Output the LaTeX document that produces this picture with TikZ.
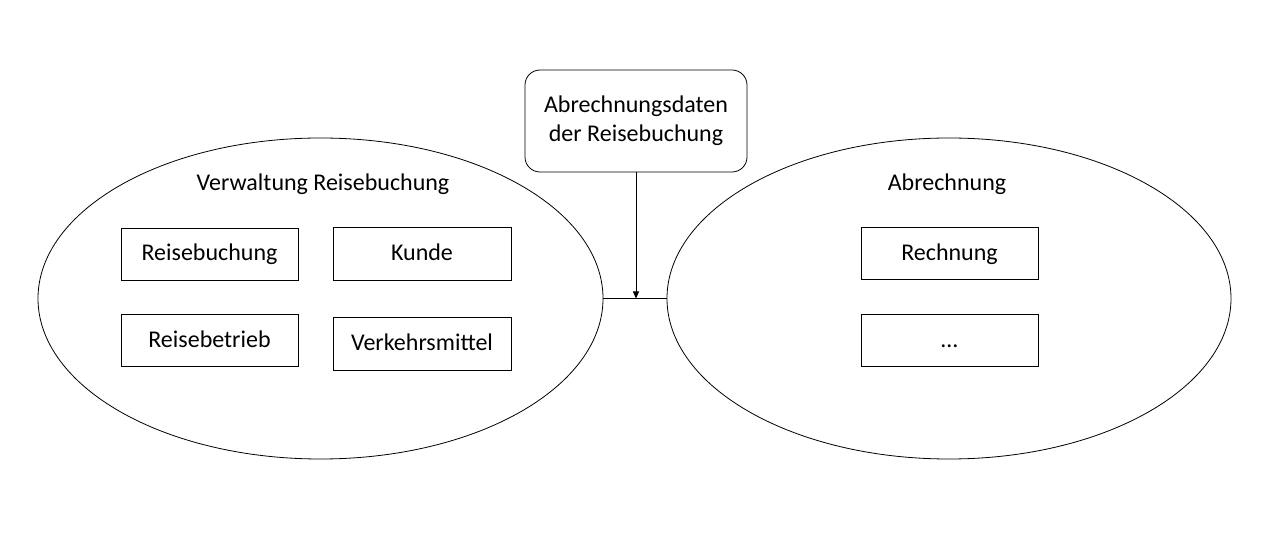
\documentclass[tikz,border=0pt]{standalone}
\usepackage{fontspec}
\setmainfont{Carlito}
\usetikzlibrary{shapes.geometric,arrows.meta}
\begin{document}
\begin{tikzpicture}[x=1pt,y=-1pt,
  every node/.style={font=\fontsize{24}{29}\selectfont},
  ell/.style={draw,ellipse,line width=0.8pt,inner sep=0pt},
  ebox/.style={draw,rectangle,line width=0.8pt,minimum width=177pt,minimum height=52pt,inner sep=0pt,text height=15pt,text depth=1pt},
  topbox/.style={draw,rectangle,rounded corners=15pt,line width=0.8pt,minimum width=222pt,minimum height=102pt,align=center,inner sep=0pt},
  conn/.style={line width=0.8pt},
  arr/.style={line width=0.8pt,-{Triangle[length=7pt,width=6pt]}}]
\useasboundingbox (0,0) rectangle (1264,545);
\node[ell,minimum width=565pt,minimum height=321pt] (L) at (320.5,298.5) {};
\node[ell,minimum width=564pt,minimum height=321pt] (R) at (949,298.5) {};
\node (Lt) at (323,184) {Verwaltung Reisebuchung};
\node (Rt) at (947,184) {Abrechnung};
\node[ebox] (b1) at (209.5,254) {Reisebuchung};
\node[ebox,minimum width=178pt,minimum height=53pt] (b2) at (422,253.5) {Kunde};
\node[ebox] (b3) at (209.5,340.5) {Reisebetrieb};
\node[ebox,minimum width=178pt,minimum height=53pt] (b4) at (422,343.5) {Verkehrsmittel};
\node[ebox] (b5) at (949.5,253.5) {Rechnung};
\node[ebox] (b6) at (949.5,340.5) {\dots};
\node[topbox] (top) at (636,121) {Abrechnungsdaten\\der Reisebuchung};
\draw[conn] (L.east) -- (R.west);
\coordinate (m) at (636,298.5);
\draw[arr] (top.south) -- (m);
\end{tikzpicture}
\end{document}
